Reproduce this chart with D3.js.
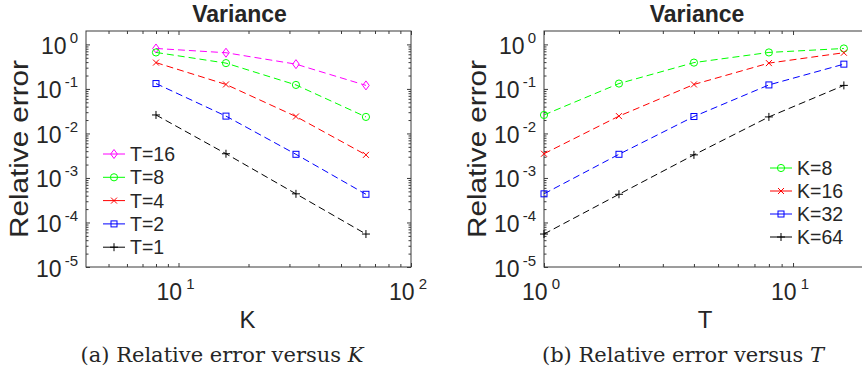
<!DOCTYPE html>
<html>
<head>
<meta charset="utf-8">
<script src="https://cdn.jsdelivr.net/npm/d3@7"></script>
<style>
  html, body { margin: 0; padding: 0; background: #fff; }
  svg { display: block; }
  text { font-family: "Liberation Sans", Arial, sans-serif; fill: #262626; }
</style>
</head>
<body>
<svg id="chart" width="862" height="373"></svg>
<script>
// Number of samples K and time horizon T
const Kvals = [8, 16, 32, 64];
const Tvals = [1, 2, 4, 8, 16];

// Relative error of the variance estimate, one array per T, indexed by K
const errT16 = [0.81, 0.65, 0.36, 0.12];
const errT8  = [0.66, 0.38, 0.123, 0.0235];
const errT4  = [0.39, 0.126, 0.024, 0.0033];
const errT2  = [0.132, 0.0245, 0.0034, 0.00043];
const errT1  = [0.026, 0.0035, 0.00044, 0.000055];

const yTicks = [1e0, 1e-1, 1e-2, 1e-3, 1e-4, 1e-5];
const yExp = ["0", "-1", "-2", "-3", "-4", "-5"];

const styles = {
  T16: { color: "#ff00ff", marker: "diamond" },
  T8:  { color: "#00ff00", marker: "circle" },
  T4:  { color: "#ff0000", marker: "x" },
  T2:  { color: "#0000ff", marker: "square" },
  T1:  { color: "#000000", marker: "plus" }
};

// Series for panel (a): error versus K, one line per T
const seriesA = [
  { label: "T=16", vals: errT16, ...styles.T16 },
  { label: "T=8",  vals: errT8,  ...styles.T8 },
  { label: "T=4",  vals: errT4,  ...styles.T4 },
  { label: "T=2",  vals: errT2,  ...styles.T2 },
  { label: "T=1",  vals: errT1,  ...styles.T1 }
];

// Series for panel (b): error versus T, one line per K (same table read by column)
const byT = [errT1, errT2, errT4, errT8, errT16];
const seriesB = [
  { label: "K=8",  vals: byT.map(r => r[0]), ...styles.T8 },
  { label: "K=16", vals: byT.map(r => r[1]), ...styles.T4 },
  { label: "K=32", vals: byT.map(r => r[2]), ...styles.T2 },
  { label: "K=64", vals: byT.map(r => r[3]), ...styles.T1 }
];

const svg = d3.select("#chart");
const axisColor = "#3a3a3a";

function drawMarker(g, type, cx, cy, color) {
  if (type === "diamond") {
    g.append("path").attr("d", `M${cx},${cy - 4.5}L${cx + 3.3},${cy}L${cx},${cy + 4.5}L${cx - 3.3},${cy}Z`)
      .attr("fill", "none").attr("stroke", color).attr("stroke-width", 1);
  } else if (type === "circle") {
    g.append("circle").attr("cx", cx).attr("cy", cy).attr("r", 3.6)
      .attr("fill", "none").attr("stroke", color).attr("stroke-width", 1);
  } else if (type === "square") {
    g.append("rect").attr("x", cx - 3).attr("y", cy - 3).attr("width", 6).attr("height", 6)
      .attr("fill", "none").attr("stroke", color).attr("stroke-width", 1);
  } else if (type === "x") {
    g.append("path").attr("d", `M${cx - 3},${cy - 3}L${cx + 3},${cy + 3}M${cx - 3},${cy + 3}L${cx + 3},${cy - 3}`)
      .attr("stroke", color).attr("stroke-width", 1);
  } else if (type === "plus") {
    g.append("path").attr("d", `M${cx - 4},${cy}L${cx + 4},${cy}M${cx},${cy - 4}L${cx},${cy + 4}`)
      .attr("stroke", color).attr("stroke-width", 1);
  }
}

function minorTicks(lo, hi) {
  const out = [];
  for (let e = Math.floor(Math.log10(lo)); e <= Math.ceil(Math.log10(hi)); e++) {
    for (let m = 2; m <= 9; m++) {
      const v = m * Math.pow(10, e);
      if (v > lo && v < hi) out.push(v);
    }
  }
  return out;
}

function panel(opts) {
  const { left, right, top, bottom, xDomain, xMajor, xExp, series, xs, xLabel, legend, caption, captionVar } = opts;
  const x = d3.scaleLog().domain(xDomain).range([left, right]);
  const y = d3.scaleLog().domain([1e-5, 2]).range([bottom, top]);
  const g = svg.append("g");

  // Inward tick marks on all four sides (major and minor)
  [{ ax: d3.axisBottom(x), t: `translate(0,${bottom})` }, { ax: d3.axisTop(x), t: `translate(0,${top})` }].forEach(s => {
    g.append("g").attr("transform", s.t)
      .call(s.ax.tickValues(xMajor).tickSize(-4).tickFormat(""))
      .call(a => a.select(".domain").remove())
      .selectAll("line").attr("stroke", axisColor);
    g.append("g").attr("transform", s.t)
      .call(s.ax.tickValues(minorTicks(xDomain[0], xDomain[1])).tickSize(-3).tickFormat(""))
      .call(a => a.select(".domain").remove())
      .selectAll("line").attr("stroke", axisColor);
  });
  [{ ax: d3.axisLeft(y), t: `translate(${left},0)` }, { ax: d3.axisRight(y), t: `translate(${right},0)` }].forEach(s => {
    g.append("g").attr("transform", s.t)
      .call(s.ax.tickValues(yTicks).tickSize(-4).tickFormat(""))
      .call(a => a.select(".domain").remove())
      .selectAll("line").attr("stroke", axisColor);
    g.append("g").attr("transform", s.t)
      .call(s.ax.tickValues(minorTicks(1e-5, 2)).tickSize(-2.5).tickFormat(""))
      .call(a => a.select(".domain").remove())
      .selectAll("line").attr("stroke", axisColor);
  });

  // Axes box
  g.append("rect").attr("x", left).attr("y", top).attr("width", right - left).attr("height", bottom - top)
    .attr("fill", "none").attr("stroke", axisColor).attr("stroke-width", 1);

  // Y tick labels 10^n
  yTicks.forEach((v, i) => {
    const t = g.append("text").attr("x", left - 8).attr("y", y(v) + 9.5)
      .attr("text-anchor", "end").attr("font-size", 23);
    t.append("tspan").text("10");
    t.append("tspan").attr("dx", 3).attr("dy", -11).attr("font-size", 15).text(yExp[i]);
  });
  // X tick labels 10^n
  xMajor.forEach((v, i) => {
    const t = g.append("text").attr("x", x(v) - 3).attr("y", bottom + 33)
      .attr("text-anchor", "middle").attr("font-size", 23);
    t.append("tspan").text("10");
    t.append("tspan").attr("dx", 4).attr("dy", -11).attr("font-size", 15).text(xExp[i]);
  });

  // Title and axis labels
  g.append("text").attr("x", (left + right) / 2 - 9).attr("y", top - 9)
    .attr("text-anchor", "middle").attr("font-size", 23).attr("font-weight", "bold").text("Variance");
  g.append("text").attr("x", (left + right) / 2 - 1).attr("y", bottom + 61)
    .attr("text-anchor", "middle").attr("font-size", 24).text(xLabel);
  g.append("text").attr("transform", `translate(${left - 58},${(top + bottom) / 2}) rotate(-90)`)
    .attr("text-anchor", "middle").attr("font-size", 25)
    .attr("textLength", 178).attr("lengthAdjust", "spacingAndGlyphs").text("Relative error");

  // Dashed lines with markers
  const line = d3.line().x(d => x(d[0])).y(d => y(d[1]));
  series.forEach(s => {
    const pts = xs.map((xv, i) => [xv, s.vals[i]]);
    g.append("path").attr("d", line(pts)).attr("fill", "none")
      .attr("stroke", s.color).attr("stroke-width", 1).attr("stroke-dasharray", "7,4");
    pts.forEach(p => drawMarker(g, s.marker, x(p[0]), y(p[1]), s.color));
  });

  // Legend
  series.forEach((s, i) => {
    const ly = legend.y + i * legend.dy;
    g.append("line").attr("x1", legend.x).attr("x2", legend.x + 22).attr("y1", ly).attr("y2", ly)
      .attr("stroke", s.color).attr("stroke-width", 1);
    drawMarker(g, s.marker, legend.x + 11, ly, s.color);
    g.append("text").attr("x", legend.x + 27).attr("y", ly + 7).attr("font-size", 19.5).text(s.label);
  });

  // Caption
  const c = svg.append("text").attr("x", opts.captionX).attr("y", 362)
    .attr("text-anchor", "middle").attr("font-size", 21)
    .style("font-family", "'DejaVu Serif', 'Liberation Serif', serif");
  c.append("tspan").text(caption);
  c.append("tspan").attr("font-style", "italic").text(captionVar);
}

panel({
  left: 86, right: 411, top: 31, bottom: 267,
  xDomain: [4, 100], xMajor: [10, 100], xExp: ["1", "2"],
  series: seriesA, xs: Kvals, xLabel: "K",
  legend: { x: 103, y: 154, dy: 23.3 },
  caption: "(a) Relative error versus ", captionVar: "K", captionX: 222
});

panel({
  left: 544, right: 868, top: 31, bottom: 267,
  xDomain: [1, 20], xMajor: [1, 10], xExp: ["0", "1"],
  series: seriesB, xs: Tvals, xLabel: "T",
  legend: { x: 770, y: 168, dy: 23 },
  caption: "(b) Relative error versus ", captionVar: "T", captionX: 683
});
</script>
</body>
</html>
